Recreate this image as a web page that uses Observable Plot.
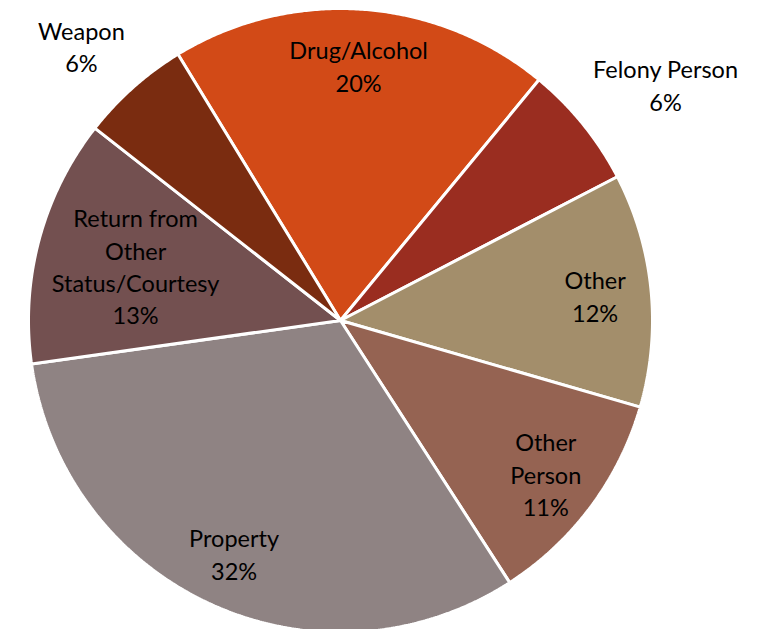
<!DOCTYPE html>
<html>
<head>
<meta charset="utf-8">
<script src="https://cdn.jsdelivr.net/npm/d3@7"></script>
<script src="https://cdn.jsdelivr.net/npm/@observablehq/plot@0.6"></script>
<style>
  html, body { margin: 0; padding: 0; background: #fff; }
  #chart { width: 767px; height: 629px; overflow: hidden; }
</style>
</head>
<body>
<div id="chart"></div>
<script>
// Data
const categories = ["Drug/Alcohol", "Felony Person", "Other", "Other Person", "Property", "Return from Other Status/Courtesy", "Weapon"];
const labelLines = ["Drug/Alcohol", "Felony Person", "Other", "Other\nPerson", "Property", "Return from\nOther\nStatus/Courtesy", "Weapon"];
const values = [19.7, 6.4, 12.1, 11.4, 31.9, 12.8, 5.7];
const colors = ["#D24A17", "#9A2D20", "#A38E6B", "#956352", "#8F8383", "#735050", "#7A2C10"];

const W = 767, H = 629;
const cx = 340, cy = 320, R = 312;
const startDeg = -31.4;
const fontSize = 23.5, lineHeight = 1.38;
const fontFamily = "Lato, 'Open Sans', sans-serif";

const ctx = document.createElement("canvas").getContext("2d");
ctx.font = `${fontSize}px ${fontFamily}`;

const pie = d3.pie().sort(null).value(d => d.value)
  .startAngle(startDeg * Math.PI / 180)
  .endAngle(startDeg * Math.PI / 180 + 2 * Math.PI);
const rows = categories.map((c, i) => ({category: c, label: labelLines[i], value: values[i]}));
const arcs = pie(rows);
const total = d3.sum(values);

// polygon vertices for each slice (unit radius, angle clockwise from 12 o'clock)
const poly = [];
for (const a of arcs) {
  poly.push({category: a.data.category, x: 0, y: 0});
  const n = Math.max(8, Math.ceil((a.endAngle - a.startAngle) / (0.4 * Math.PI / 180)));
  for (let k = 0; k <= n; k++) {
    const t = a.startAngle + (a.endAngle - a.startAngle) * k / n;
    poly.push({category: a.data.category, x: Math.sin(t), y: Math.cos(t)});
  }
}

// labels: inside for big slices, outside (box corner anchored) for small ones
const labels = arcs.map(a => {
  const mid = (a.startAngle + a.endAngle) / 2;
  const share = a.data.value / total;
  const text = a.data.label + "\n" + Math.round(share * 100) + "%";
  const lines = text.split("\n");
  const sx = Math.sin(mid), sy = Math.cos(mid);
  if (share < 0.08) {
    const ra = 1.04;
    const halfW = 0.5 * d3.max(lines, l => ctx.measureText(l).width) / R;
    const halfH = 0.5 * lines.length * lineHeight * fontSize / R;
    return {x: ra * sx + Math.sign(sx) * halfW, y: ra * sy + Math.sign(sy) * halfH, text};
  }
  const r = lines.length >= 4 ? 0.68 : 0.82;
  return {x: r * sx, y: r * sy, text};
});

const chart = Plot.plot({
  width: W,
  height: H,
  margin: 0,
  x: {domain: [-cx / R, (W - cx) / R], axis: null},
  y: {domain: [-(H - cy) / R, cy / R], axis: null},
  color: {domain: categories, range: colors},
  style: {fontFamily, background: "white"},
  marks: [
    Plot.line(poly, {
      x: "x", y: "y", z: "category", fill: "category",
      stroke: "white", strokeWidth: 3, strokeLinejoin: "miter",
      curve: "linear-closed"
    }),
    Plot.text(labels, {
      x: "x", y: "y", text: "text",
      fontSize, lineHeight, fill: "black",
      textAnchor: "middle", lineAnchor: "middle"
    })
  ]
});
document.getElementById("chart").appendChild(chart);
</script>
</body>
</html>
